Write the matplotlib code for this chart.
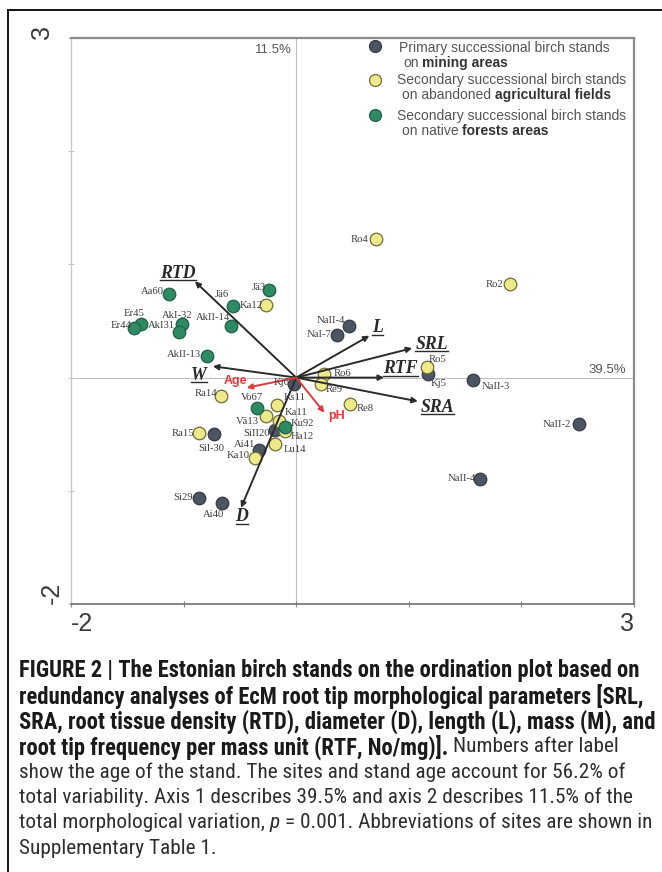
import matplotlib
matplotlib.use("Agg")
import matplotlib.pyplot as plt
from matplotlib import font_manager
from matplotlib.font_manager import FontProperties
from matplotlib.lines import Line2D

# ---------------------------------------------------------------- data
# RDA site scores (axis 1, axis 2)
mining_sites = ["NaII-4", "NaI-7", "Kj5", "NaII-3", "NaII-2", "NaII-4", "Kj6",
                "SiII20", "Sil-30", "Ai41", "Si29", "Ai40"]
mining_x = [0.47, 0.36, 1.17, 1.57, 2.51, 1.63, -0.02, -0.19, -0.73, -0.33, -0.86, -0.66]
mining_y = [0.46, 0.38, 0.03, -0.02, -0.41, -0.90, -0.06, -0.46, -0.50, -0.64, -1.06, -1.11]

agri_sites = ["Ro4", "Ro2", "Ka12", "Ro5", "Ro6", "Re9", "Re8", "Ra14", "Ks11",
              "Vä13", "Ka11", "Ha12", "Lu14", "Ka10", "Ra15"]
agri_x = [0.71, 1.90, -0.27, 1.16, 0.25, 0.22, 0.48, -0.67, -0.17, -0.27, -0.15,
          -0.10, -0.19, -0.37, -0.86]
agri_y = [1.22, 0.83, 0.64, 0.09, 0.03, -0.06, -0.23, -0.16, -0.24, -0.34, -0.38,
          -0.47, -0.59, -0.71, -0.49]

forest_sites = ["Jä3", "Jä6", "AkII-14", "Aa60", "AkI-32", "AkI31", "Er45", "Er44",
                "AkII-13", "Vo67", "Ku92"]
forest_x = [-0.24, -0.56, -0.58, -1.13, -1.01, -1.04, -1.38, -1.44, -0.79, -0.35, -0.10]
forest_y = [0.77, 0.63, 0.46, 0.74, 0.47, 0.40, 0.47, 0.44, 0.19, -0.27, -0.44]

# morphological trait vectors
trait_names = ["RTD", "W", "L", "SRL", "RTF", "SRA", "D"]
trait_x = [-0.90, -0.74, 0.65, 1.03, 0.78, 1.08, -0.49]
trait_y = [0.85, 0.10, 0.37, 0.26, 0.00, -0.21, -1.15]

# supplementary environmental vectors
env_names = ["Age", "pH"]
env_x = [-0.44, 0.25]
env_y = [-0.09, -0.31]

axis1_label = "39.5%"
axis2_label = "11.5%"
x_tick_labels = ["-2", "3"]
y_tick_labels = ["-2", "3"]

legend_rows = [
    [("Primary successional birch stands", "r")],
    [("on", "r"), ("mining areas", "b")],
    [("Secondary successional birch stands", "r")],
    [("on abandoned", "r"), ("agricultural fields", "b")],
    [("Secondary successional birch stands", "r")],
    [("on native", "r"), ("forests areas", "b")],
]

caption_lines = [
    [("FIGURE 2 | The Estonian birch stands on the ordination plot based on", "b")],
    [("redundancy analyses of EcM root tip morphological parameters [SRL,", "b")],
    [("SRA, root tissue density (RTD), diameter (D), length (L), mass (M), and", "b")],
    [("root tip frequency per mass unit (RTF, No/mg)].", "b"),
     ("Numbers after label", "r")],
    [("show the age of the stand. The sites and stand age account for 56.2% of", "r")],
    [("total variability. Axis 1 describes 39.5% and axis 2 describes 11.5% of the", "r")],
    [("total morphological variation,", "r"), ("p", "i"),
     ("= 0.001. Abbreviations of sites are shown in", "r")],
    [("Supplementary Table 1.", "r")],
]

# ---------------------------------------------------------------- label placement (pixel offsets, ha)
mining_lab = [(-4, 5, "right"), (-5, 0, "right"), (3, -9, "left"), (9, -7, "left"),
              (-8, 0, "right"), (-4, 1, "right"), (-4, 2, "right"), (-5, -4, "right"),
              (-3, -14, "center"), (-4, 6, "right"), (-7, 0, "right"), (-8, -11, "center")]
agri_lab = [(-8, 0, "right"), (-7, -1, "right"), (-3, 0, "right"), (2, 8, "left"),
            (9, 1, "left"), (5, -5, "left"), (6, -5, "left"), (-3, 2, "right"),
            (7, 7, "left"), (-7, -5, "right"), (5, 8, "left"), (6, -6, "left"),
            (9, -5, "left"), (-5, 2, "right"), (-5, 0, "right")]
forest_lab = [(-3, 3, "right"), (-4, 12, "right"), (-1, 8, "right"), (-5, 2, "right"),
              (10, 9, "right"), (-4, 7, "right"), (-7, 11, "center"), (-3, 2, "right"),
              (-6, 2, "right"), (6, 11, "right"), (6, 4, "left")]
trait_lab = [(1, 8, "right"), (-14, -9, "center"), (3, 8, "left"), (3, 4, "left"),
             (-1, 9, "left"), (3, -6, "left"), (1, -9, "center")]
env_lab = [(1, 7, "right"), (4, -3, "left")]

# ---------------------------------------------------------------- fonts
W_PX, H_PX = 662, 872
DPI = 100
entries = font_manager.fontManager.ttflist
names = {f.name for f in entries}
SANS = "Liberation Sans" if "Liberation Sans" in names else "DejaVu Sans"
SERIF = "Liberation Serif" if "Liberation Serif" in names else "DejaVu Serif"


def _weight(f):
    w = f.weight
    if isinstance(w, str):
        w = font_manager.weight_dict.get(w, 400)
    return int(w)


def _narrow_files():
    """Regular / bold / italic files of a condensed sans family, if one exists."""
    def pick(pool):
        reg = [f for f in pool if f.style == "normal" and _weight(f) < 600]
        bold = [f for f in pool if f.style == "normal" and _weight(f) >= 600]
        ital = [f for f in pool if f.style != "normal" and _weight(f) < 600]
        if reg and bold:
            reg.sort(key=lambda f: abs(_weight(f) - 400))
            bold.sort(key=lambda f: abs(_weight(f) - 700))
            ital.sort(key=lambda f: abs(_weight(f) - 400))
            return reg[0].fname, bold[0].fname, (ital[0].fname if ital else None)
        return None

    for nm in ["Liberation Sans Narrow", "Arial Narrow", "Roboto Condensed",
               "Open Sans Condensed", "Noto Sans Condensed", "DejaVu Sans Condensed"]:
        got = pick([f for f in entries if f.name == nm])
        if got:
            return got
    for fam in ["Liberation Sans", "Roboto", "Noto Sans", "Open Sans", "DejaVu Sans"]:
        pool = [f for f in entries if f.name == fam and
                str(f.stretch) in ("condensed", "semi-condensed", "extra-condensed")]
        got = pick(pool)
        if got:
            return got
    return None


narrow = _narrow_files()


def cap_font(kind, size):
    if narrow is not None:
        path = {"r": narrow[0], "b": narrow[1], "i": narrow[2]}[kind]
        if path is not None:
            return FontProperties(fname=path, size=size)
        return FontProperties(fname=narrow[0], size=size, style="italic")
    return FontProperties(family=SANS, size=size,
                          weight="bold" if kind == "b" else "normal",
                          style="italic" if kind == "i" else "normal")


def leg_font(kind, size):
    return FontProperties(family=SANS, size=size,
                          weight="bold" if kind == "b" else "normal")


# ---------------------------------------------------------------- styling
C_MINING, E_MINING = "#4b5563", "#343c46"
C_AGRI, E_AGRI = "#eeea8c", "#6f6d35"
C_FOREST, E_FOREST = "#2e8a62", "#22604a"
C_ARROW = "#2b2b2b"
C_RED = "#e03a3a"

fig = plt.figure(figsize=(W_PX / DPI, H_PX / DPI), dpi=DPI)
fig.patch.set_facecolor("white")

# outer frame (top and left rules)
fig.add_artist(Line2D([8 / W_PX, 1.0], [1 - 10 / H_PX, 1 - 10 / H_PX],
                      transform=fig.transFigure, color="black", lw=1.3))
fig.add_artist(Line2D([8 / W_PX, 8 / W_PX], [1 - 10 / H_PX, 0.0],
                      transform=fig.transFigure, color="black", lw=1.3))

ax_left, ax_right, ax_top, ax_bottom = 71, 634, 38, 604
ax = fig.add_axes([ax_left / W_PX, 1 - ax_bottom / H_PX,
                   (ax_right - ax_left) / W_PX, (ax_bottom - ax_top) / H_PX])
ax.set_xlim(-2, 3)
ax.set_ylim(-2, 3)
ax.set_xticks(range(-2, 4))
ax.set_yticks(range(-2, 4))
ax.tick_params(direction="inout", length=5, width=0.8, color="#8a8a8a",
               labelbottom=False, labelleft=False)
ax.tick_params(axis="y", color="#c8c8c8", length=4)
for side, col, lw in [("top", "#8c8c8c", 1.6), ("right", "#8c8c8c", 1.6),
                      ("left", "#c4c4c4", 0.9), ("bottom", "#707070", 1.2)]:
    ax.spines[side].set_color(col)
    ax.spines[side].set_linewidth(lw)
ax.axhline(0, color="#c0c0c0", lw=0.8, zorder=0)
ax.axvline(0, color="#c0c0c0", lw=0.8, zorder=0)

# axis end values
ax.text(0.0, -0.015, x_tick_labels[0], transform=ax.transAxes, ha="left", va="top",
        fontsize=18, family=SANS, color="#3a3a3a")
ax.text(1.0, -0.015, x_tick_labels[1], transform=ax.transAxes, ha="right", va="top",
        fontsize=18, family=SANS, color="#3a3a3a")
ax.text(-0.013, 0.0, y_tick_labels[0], transform=ax.transAxes, ha="right", va="bottom",
        rotation=90, fontsize=18, family=SANS, color="#3a3a3a")
ax.text(-0.03, 1.01, y_tick_labels[1], transform=ax.transAxes, ha="right", va="center",
        rotation=90, fontsize=18, family=SANS, color="#3a3a3a")

ax.text(-0.04, 2.89, axis2_label, ha="right", va="center", fontsize=9.5,
        family=SANS, color="#555555")
ax.text(2.93, 0.07, axis1_label, ha="right", va="center", fontsize=9.5,
        family=SANS, color="#555555")

# site points
groups = [
    (mining_sites, mining_x, mining_y, mining_lab, C_MINING, E_MINING),
    (agri_sites, agri_x, agri_y, agri_lab, C_AGRI, E_AGRI),
    (forest_sites, forest_x, forest_y, forest_lab, C_FOREST, E_FOREST),
]
for sites, xs, ys, labs, fc, ec in groups:
    ax.scatter(xs, ys, s=82, facecolor=fc, edgecolor=ec, linewidth=0.9, zorder=3)
    for name, x, y, (dx, dy, ha) in zip(sites, xs, ys, labs):
        ax.annotate(name, (x, y), xytext=(dx, dy), textcoords="offset pixels",
                    ha=ha, va="center", fontsize=7.7, family=SERIF,
                    color="#3d3d3d", zorder=5)

# trait vectors
trait_texts = []
for name, x, y, (dx, dy, ha) in zip(trait_names, trait_x, trait_y, trait_lab):
    ax.annotate("", xy=(x, y), xytext=(0, 0),
                arrowprops=dict(arrowstyle="-|>", color=C_ARROW, lw=1.4,
                                mutation_scale=8, shrinkA=0, shrinkB=0), zorder=4)
    t = ax.annotate(name, (x, y), xytext=(dx, dy), textcoords="offset pixels",
                    ha=ha, va="center", fontsize=12.8, family=SERIF,
                    fontweight="bold", fontstyle="italic", color="#2a2a2a", zorder=6)
    trait_texts.append(t)

for name, x, y, (dx, dy, ha) in zip(env_names, env_x, env_y, env_lab):
    ax.annotate("", xy=(x, y), xytext=(0, 0),
                arrowprops=dict(arrowstyle="-|>", color=C_RED, lw=1.4,
                                mutation_scale=8, shrinkA=0, shrinkB=0), zorder=4)
    ax.annotate(name, (x, y), xytext=(dx, dy), textcoords="offset pixels",
                ha=ha, va="center", fontsize=9, family=SANS,
                fontweight="bold", color=C_RED, zorder=6)

fig.canvas.draw()
renderer = fig.canvas.get_renderer()

# underline trait names
for t in trait_texts:
    bb = t.get_window_extent(renderer)
    yline = bb.y0 + 1.5
    fig.add_artist(Line2D([bb.x0 / W_PX, bb.x1 / W_PX], [yline / H_PX, yline / H_PX],
                          transform=fig.transFigure, color="#2a2a2a", lw=1.0))


def text_width(s, fp):
    t = fig.text(0, 0, s, fontproperties=fp)
    w = t.get_window_extent(renderer).width
    t.remove()
    return w


def put_runs(x_px, y_px, runs, font_fn, sizes, colors):
    fr = font_fn("r", sizes["r"])
    space = text_width("a a", fr) - text_width("aa", fr)
    x = x_px
    for s, kind in runs:
        t = fig.text(x / W_PX, 1 - y_px / H_PX, s, fontproperties=font_fn(kind, sizes[kind]),
                     ha="left", va="center", color=colors[kind])
        x += t.get_window_extent(renderer).width + space


# legend
leg_size = 10
leg_sizes = {"r": leg_size, "b": leg_size}
leg_marker_y = [46, 80, 115]
leg_colors = [(C_MINING, E_MINING), (C_AGRI, E_AGRI), (C_FOREST, E_FOREST)]
for (fc, ec), my in zip(leg_colors, leg_marker_y):
    fig.add_artist(Line2D([375 / W_PX], [1 - my / H_PX], transform=fig.transFigure,
                          marker="o", markersize=8.6, markerfacecolor=fc,
                          markeredgecolor=ec, markeredgewidth=0.9, linestyle="none"))
leg_line_y = [48, 63, 80, 95, 116, 131]
leg_line_x = [399, 403, 397, 402, 397, 402]
for runs, ly, lx in zip(legend_rows, leg_line_y, leg_line_x):
    put_runs(lx, ly, runs, leg_font, leg_sizes, {"r": "#555555", "b": "#333333"})

# caption: bold face sized on the first line, regular face on the longest plain lines
cap_left = 19
wb = text_width(caption_lines[0][0][0], cap_font("b", 10))
size_b = 10 * (640 - cap_left) / wb
w6 = text_width(caption_lines[5][0][0], cap_font("r", 10))
w7 = text_width(" ".join(s for s, _ in caption_lines[6]), cap_font("r", 10))
size_r = min(10 * (643 - cap_left) / w6, 10 * (650 - cap_left) / w7)
cap_sizes = {"b": size_b, "r": size_r, "i": size_r}
cap_top, cap_step = 671, 25.3
for i, runs in enumerate(caption_lines):
    put_runs(cap_left, cap_top + i * cap_step, runs, cap_font, cap_sizes,
             {"r": "#2e2e2e", "b": "#1a1a1a", "i": "#2e2e2e"})

fig.savefig("out.png", dpi=DPI, facecolor="white")
